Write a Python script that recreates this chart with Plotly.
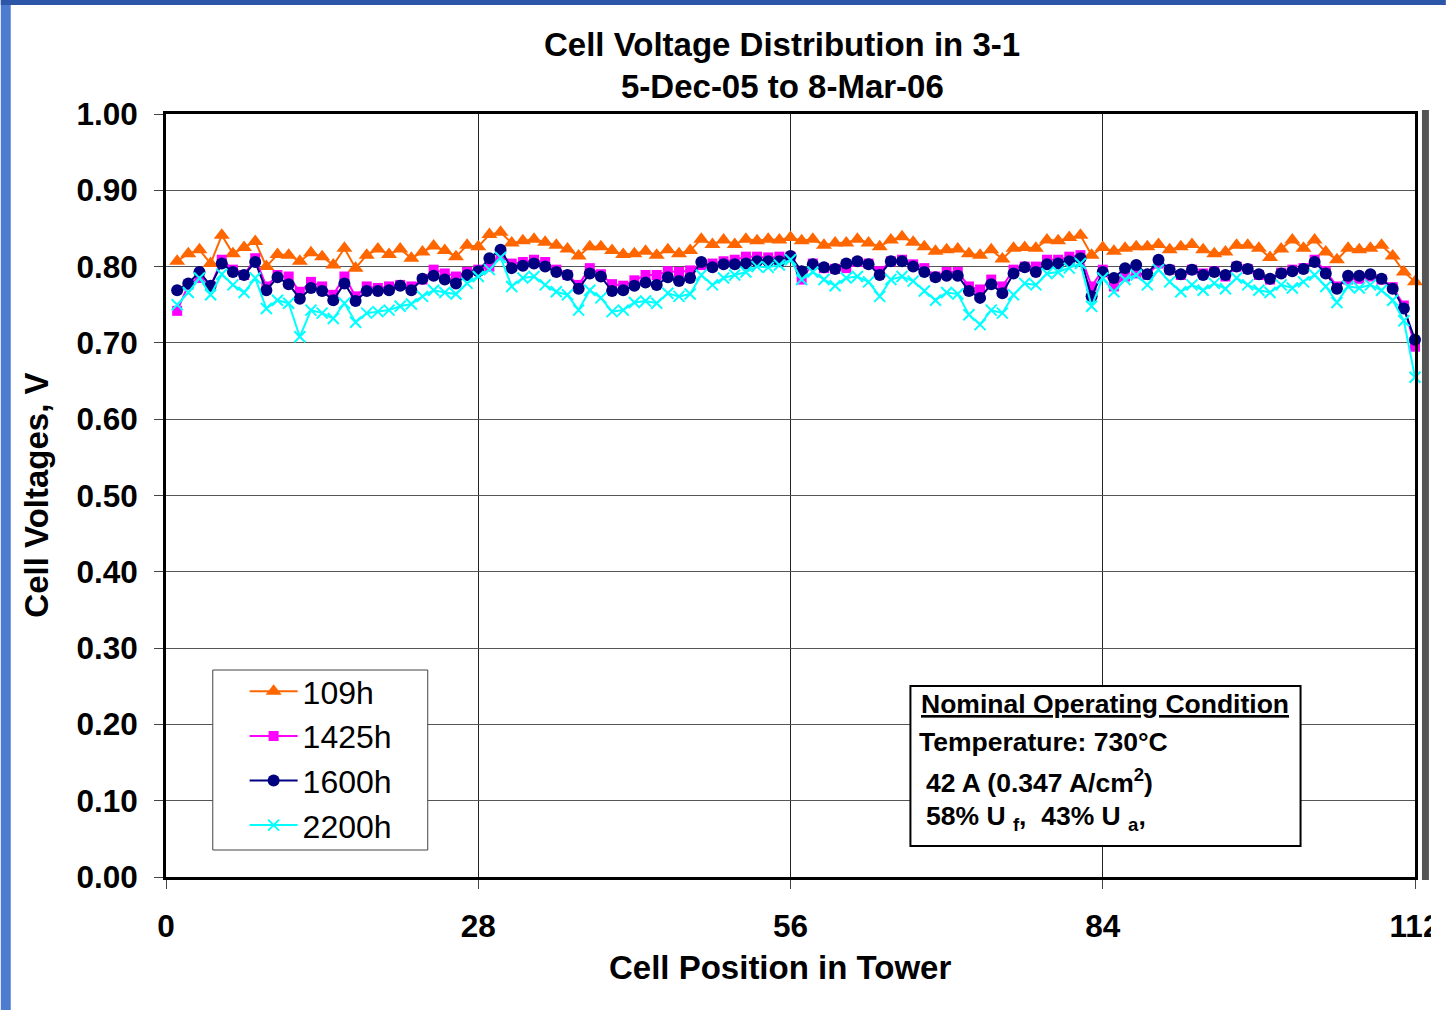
import plotly.graph_objects as go

cells = list(range(1, 113))

v_109h = [0.807, 0.817, 0.822, 0.804, 0.841, 0.817, 0.825, 0.833, 0.800, 0.816,
          0.815, 0.807, 0.818, 0.813, 0.802, 0.824, 0.798, 0.815, 0.823, 0.816,
          0.823, 0.811, 0.819, 0.827, 0.821, 0.813, 0.828, 0.826, 0.842, 0.845,
          0.831, 0.834, 0.836, 0.832, 0.828, 0.823, 0.814, 0.826, 0.826, 0.821,
          0.816, 0.817, 0.820, 0.815, 0.822, 0.817, 0.821, 0.836, 0.829, 0.835,
          0.829, 0.836, 0.834, 0.836, 0.835, 0.838, 0.834, 0.836, 0.828, 0.831,
          0.831, 0.836, 0.831, 0.826, 0.835, 0.839, 0.832, 0.826, 0.820, 0.822,
          0.823, 0.817, 0.815, 0.822, 0.810, 0.824, 0.825, 0.824, 0.835, 0.834,
          0.838, 0.841, 0.815, 0.825, 0.820, 0.824, 0.826, 0.826, 0.829, 0.822,
          0.826, 0.829, 0.822, 0.817, 0.819, 0.828, 0.828, 0.824, 0.812, 0.823,
          0.835, 0.824, 0.835, 0.819, 0.809, 0.824, 0.822, 0.824, 0.828, 0.814,
          0.793, 0.780]

v_1425h = [0.742, 0.776, 0.785, 0.774, 0.809, 0.796, 0.789, 0.811, 0.774, 0.789,
           0.787, 0.767, 0.780, 0.774, 0.763, 0.787, 0.761, 0.774, 0.772, 0.774,
           0.776, 0.774, 0.783, 0.796, 0.791, 0.787, 0.793, 0.796, 0.800, 0.815,
           0.804, 0.806, 0.809, 0.806, 0.796, 0.789, 0.776, 0.798, 0.790, 0.777,
           0.775, 0.782, 0.789, 0.789, 0.794, 0.793, 0.795, 0.802, 0.804, 0.807,
           0.809, 0.813, 0.813, 0.812, 0.813, 0.813, 0.783, 0.804, 0.798, 0.797,
           0.798, 0.806, 0.804, 0.794, 0.807, 0.809, 0.803, 0.798, 0.787, 0.793,
           0.793, 0.774, 0.770, 0.783, 0.774, 0.796, 0.800, 0.800, 0.809, 0.809,
           0.813, 0.815, 0.774, 0.796, 0.774, 0.787, 0.791, 0.789, 0.804, 0.796,
           0.789, 0.796, 0.791, 0.794, 0.787, 0.800, 0.797, 0.789, 0.783, 0.792,
           0.796, 0.798, 0.809, 0.794, 0.774, 0.783, 0.784, 0.787, 0.783, 0.773,
           0.749, 0.695]

v_1600h = [0.769, 0.778, 0.793, 0.775, 0.804, 0.793, 0.789, 0.806, 0.769, 0.786,
           0.777, 0.758, 0.772, 0.768, 0.756, 0.778, 0.755, 0.768, 0.768, 0.769,
           0.775, 0.769, 0.784, 0.788, 0.783, 0.778, 0.789, 0.794, 0.811, 0.822,
           0.798, 0.801, 0.804, 0.800, 0.793, 0.789, 0.771, 0.791, 0.787, 0.768,
           0.769, 0.775, 0.779, 0.776, 0.786, 0.781, 0.785, 0.806, 0.799, 0.803,
           0.803, 0.804, 0.807, 0.807, 0.807, 0.814, 0.794, 0.803, 0.799, 0.797,
           0.804, 0.807, 0.803, 0.789, 0.807, 0.807, 0.800, 0.793, 0.786, 0.788,
           0.788, 0.768, 0.759, 0.777, 0.765, 0.791, 0.799, 0.793, 0.803, 0.804,
           0.807, 0.811, 0.761, 0.793, 0.785, 0.798, 0.802, 0.790, 0.809, 0.796,
           0.790, 0.796, 0.789, 0.793, 0.789, 0.800, 0.797, 0.790, 0.784, 0.791,
           0.794, 0.797, 0.806, 0.791, 0.771, 0.788, 0.788, 0.790, 0.784, 0.771,
           0.745, 0.704]

v_2200h = [0.750, 0.766, 0.785, 0.763, 0.790, 0.776, 0.766, 0.785, 0.745, 0.756,
           0.752, 0.708, 0.743, 0.739, 0.732, 0.752, 0.727, 0.739, 0.741, 0.743,
           0.748, 0.751, 0.761, 0.769, 0.766, 0.764, 0.778, 0.787, 0.796, 0.812,
           0.774, 0.785, 0.787, 0.776, 0.767, 0.763, 0.743, 0.769, 0.759, 0.741,
           0.743, 0.753, 0.755, 0.752, 0.765, 0.761, 0.764, 0.789, 0.776, 0.785,
           0.789, 0.793, 0.800, 0.799, 0.802, 0.809, 0.783, 0.793, 0.783, 0.775,
           0.785, 0.787, 0.780, 0.761, 0.783, 0.787, 0.781, 0.768, 0.756, 0.766,
           0.764, 0.737, 0.724, 0.743, 0.739, 0.763, 0.778, 0.776, 0.791, 0.793,
           0.798, 0.804, 0.748, 0.785, 0.767, 0.783, 0.789, 0.776, 0.796, 0.780,
           0.767, 0.776, 0.769, 0.778, 0.771, 0.785, 0.776, 0.769, 0.766, 0.776,
           0.772, 0.780, 0.789, 0.774, 0.753, 0.774, 0.772, 0.776, 0.769, 0.756,
           0.729, 0.655]

x_ticks = [0, 28, 56, 84, 112]
y_ticks = [0.0, 0.1, 0.2, 0.3, 0.4, 0.5, 0.6, 0.7, 0.8, 0.9, 1.0]

FONT = "Liberation Sans, Arial, sans-serif"

# plot area in pixels: left 166, right 1421, top 114, bottom 877
L, R, T, B = 166, 1421, 114, 877
W, H = 1452, 1010


def px(x):
    return (x - L) / (R - L)


def py(y):
    return (B - y) / (B - T)


series = [
    ("109h", v_109h, "#FF6600", dict(symbol="triangle-up", size=14)),
    ("1425h", v_1425h, "#FF00FF", dict(symbol="square", size=10)),
    ("1600h", v_1600h, "#000080", dict(symbol="circle", size=12)),
    ("2200h", v_2200h, "#00FFFF", dict(symbol="x-thin-open", size=11, line=dict(width=2, color="#00FFFF"))),
]

fig = go.Figure()
for name, vals, col, mk in series:
    fig.add_trace(go.Scatter(
        x=cells, y=vals, name=name, mode="lines+markers",
        line=dict(color=col, width=2),
        marker=dict(color=col, **mk),
        cliponaxis=False, legendgroup=name,
    ))

fig.update_layout(
    width=W, height=H,
    margin=dict(l=L, r=W - R, t=T, b=H - B),
    paper_bgcolor="white", plot_bgcolor="white",
    font=dict(family=FONT, color="black"),
    showlegend=True,
    legend=dict(
        x=px(245), y=py(664), xanchor="left", yanchor="top",
        bgcolor="rgba(0,0,0,0)", borderwidth=0,
        font=dict(size=32, family=FONT),
        itemwidth=48, tracegroupgap=0,
    ),
)

fig.update_xaxes(
    range=[0, 112], tickvals=x_ticks,
    showgrid=True, gridcolor="#222", gridwidth=1,
    showline=True, linecolor="black", linewidth=3, mirror=True,
    ticks="outside", ticklen=9, tickcolor="#444",
    tickfont=dict(size=31.5, family=FONT, weight="bold"),
    ticklabelstandoff=10, zeroline=False,
)
fig.update_yaxes(
    range=[0, 1], tickvals=y_ticks, tickformat=".2f",
    showgrid=True, gridcolor="#555", gridwidth=1,
    showline=True, linecolor="black", linewidth=3, mirror=True,
    ticks="outside", ticklen=9, tickcolor="#444",
    tickfont=dict(size=31.5, family=FONT, weight="bold"),
    ticklabelstandoff=10, zeroline=False,
)

title_font = dict(family=FONT, size=33, color="black", weight="bold")
axis_font = dict(family=FONT, size=33, color="black", weight="bold")
ann = [
    dict(text="Cell Voltage Distribution in 3-1", x=px(785), y=py(45), font=title_font),
    dict(text="5-Dec-05 to 8-Mar-06", x=px(785), y=py(86), font=title_font),
    dict(text="Cell Position in Tower", x=px(783), y=py(967), font=axis_font),
    dict(text="Cell Voltages, V", x=px(35), y=py(495), textangle=-90, font=axis_font),
]
for a in ann:
    fig.add_annotation(xref="paper", yref="paper", showarrow=False,
                       xanchor="center", yanchor="middle", **a)

# legend frame
fig.add_shape(type="rect", xref="paper", yref="paper", layer="above",
              x0=px(213), x1=px(429), y0=py(850), y1=py(670),
              line=dict(color="#444", width=1), fillcolor="white")

# operating condition box
box_font = dict(family=FONT, size=26.5, color="black", weight="bold")
fig.add_shape(type="rect", xref="paper", yref="paper",
              x0=px(914), x1=px(1306), y0=py(846), y1=py(686),
              line=dict(color="black", width=2), fillcolor="white", layer="above")
box_lines = [
    ("<u>Nominal Operating Condition</u>", 1110, 704, "center"),
    ("Temperature: 730°C", 921, 742, "left"),
    ("42 A (0.347 A/cm<sup>2</sup>)", 928, 781, "left"),
    ("58% U <sub>f</sub>,\u00a0\u00a043% U <sub>a</sub>,", 928, 818, "left"),
]
for txt, bx, by, anc in box_lines:
    fig.add_annotation(text=txt, x=px(bx), y=py(by), xref="paper", yref="paper",
                       showarrow=False, xanchor=anc, yanchor="middle", font=box_font)

# slide background strips
fig.add_shape(type="rect", xref="paper", yref="paper", layer="above",
              x0=px(0), x1=px(10), y0=py(H), y1=py(0),
              line=dict(width=0), fillcolor="#4D7BCF")
fig.add_shape(type="rect", xref="paper", yref="paper", layer="above",
              x0=px(0), x1=px(W), y0=py(5), y1=py(0),
              line=dict(width=0), fillcolor="#2D56A8")
fig.add_shape(type="rect", xref="paper", yref="paper", layer="above",
              x0=px(1428), x1=px(1435), y0=py(880), y1=py(110),
              line=dict(width=0), fillcolor="#555")
fig.add_shape(type="rect", xref="paper", yref="paper", layer="above",
              x0=px(1437), x1=px(W), y0=py(H), y1=py(880),
              line=dict(width=0), fillcolor="white")

fig.write_html("out.html", config={"displayModeBar": False},
               post_script="document.body.style.margin='0';")
